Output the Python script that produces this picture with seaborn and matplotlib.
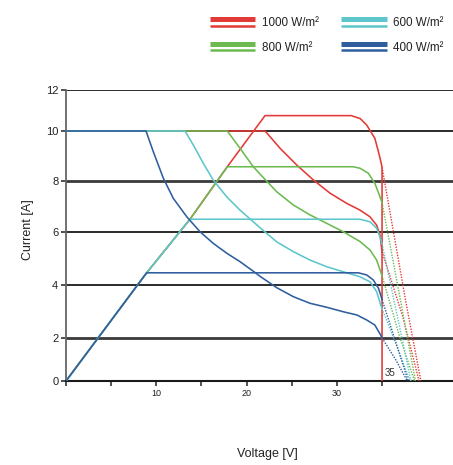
import matplotlib
matplotlib.use("Agg")
import matplotlib.pyplot as plt
from matplotlib.lines import Line2D
from matplotlib.legend_handler import HandlerBase
import seaborn as sns
import numpy as np

# ---------------- data ----------------
labels = ["1000 W/m²", "800 W/m²", "600 W/m²", "400 W/m²"]
colors = ["#e23a36", "#6cba50", "#5cc6ca", "#2f5e9f"]

# curves starting at 10 A and falling
red_desc_v = [0, 22.05, 23.7, 25.55, 27.4, 29.25, 31.1, 32.55, 33.65, 34.4, 34.77, 35.0]
red_desc_i = [10, 10, 9.31, 8.64, 8.04, 7.52, 7.12, 6.86, 6.6, 6.27, 5.89, 5.26]
green_desc_v = [0, 17.86, 19.27, 20.74, 21.48, 23.33, 25.17, 27.02, 28.87,
                30.71, 32.56, 33.67, 34.4, 34.85, 35.0]
green_desc_i = [10, 10, 9.31, 8.57, 8.28, 7.58, 7.06, 6.67, 6.34,
                6.01, 5.64, 5.32, 4.94, 4.5, 4.35]
cyan_desc_v = [0, 13.18, 14.1, 15.2, 16.3, 17.8, 19.27, 20.74, 21.48, 23.33,
               25.17, 27.02, 28.87, 30.71, 32.56, 33.67, 34.4, 34.85, 35.0]
cyan_desc_i = [10, 10, 9.44, 8.71, 8.04, 7.38, 6.86, 6.4, 6.17, 5.63,
               5.26, 4.94, 4.69, 4.5, 4.31, 4.12, 3.75, 3.25, 3.1]
blue_desc_v = [0, 8.86, 9.67, 10.78, 11.88, 13.37, 14.84, 16.31, 17.8, 19.27, 20.74,
               21.48, 23.33, 25.17, 27.02, 28.87, 30.71, 32.2, 33.3, 34.2, 34.85, 35.0]
blue_desc_i = [10, 10, 9.17, 8.11, 7.32, 6.6, 6.01, 5.57, 5.2, 4.88, 4.52,
               4.33, 3.9, 3.56, 3.31, 3.16, 2.99, 2.87, 2.68, 2.49, 2.11, 2.0]

# curves rising from the origin to a plateau
red_pl_v = [0, 8.93, 13.73, 17.86, 22.04, 31.6, 32.6, 33.3, 34.2, 34.6, 34.85, 35.0, 35.0]
red_pl_i = [0, 4.46, 6.5, 8.57, 10.75, 10.75, 10.6, 10.29, 9.71, 9.17, 8.8, 8.55, 0]
green_pl_v = [0, 8.93, 13.73, 17.86, 31.8, 32.56, 33.48, 34.2, 34.7, 35.0]
green_pl_i = [0, 4.46, 6.5, 8.57, 8.57, 8.51, 8.31, 7.91, 7.45, 7.15]
cyan_pl_v = [0, 8.93, 13.73, 32.56, 33.67, 34.4, 34.85, 35.0]
cyan_pl_i = [0, 4.46, 6.5, 6.5, 6.4, 6.15, 5.74, 5.55]
blue_pl_v = [0, 8.93, 32.37, 33.3, 34.03, 34.6, 34.85, 35.0]
blue_pl_i = [0, 4.46, 4.46, 4.38, 4.19, 3.88, 3.62, 3.45]

# dotted continuations beyond 35 V
red_dot_outer_v, red_dot_outer_i = [35, 37.6, 39.3], [8.55, 3.43, 0]
red_dot_inner_v, red_dot_inner_i = [35, 37.3, 39.1], [5.26, 2.8, 0]
green_dot_outer_v, green_dot_outer_i = [35, 37.0, 38.7], [7.15, 3.5, 0]
green_dot_inner_v, green_dot_inner_i = [35, 36.9, 38.6], [4.35, 2.1, 0]
cyan_dot_outer_v, cyan_dot_outer_i = [35, 36.8, 38.2], [5.55, 2.65, 0]
cyan_dot_inner_v, cyan_dot_inner_i = [35, 36.7, 38.1], [3.1, 1.55, 0]
blue_dot_outer_v, blue_dot_outer_i = [35, 36.6, 37.9], [3.45, 1.7, 0]
blue_dot_inner_v, blue_dot_inner_i = [35, 36.5, 37.8], [2.0, 1.0, 0]

x_ticks = [0, 5, 10, 15, 20, 25, 30, 35]
x_tick_labels = ["", "", "10", "", "20", "", "30", ""]
y_ticks = [0, 2, 4, 6, 8, 10, 12]
y_tick_labels = ["0", "2", "4", "6", "8", "10", "12"]
grid_levels = [2, 4, 6, 8, 10, 12]

# uneven vertical spacing of the original's gridlines (value -> pixel height)
scale_vals = np.array([-100, 0, 2, 4, 6, 8, 10, 12, 112], dtype=float)
scale_pix = np.array([-2150, 0, 43, 96, 149, 200, 250, 291, 2341], dtype=float)


def fwd(y):
    return np.interp(y, scale_vals, scale_pix)


def inv(p):
    return np.interp(p, scale_pix, scale_vals)


# ---------------- figure ----------------
sns.set_theme(style="white")
plt.rcParams["font.family"] = ["Liberation Sans", "DejaVu Sans"]

fig = plt.figure(figsize=(4.53, 4.65), dpi=100)
ax = fig.add_axes([66 / 453, 84 / 465, 387 / 453, 291 / 465])
ax.set_yscale("function", functions=(fwd, inv))

for lv in grid_levels:
    lw = 2.0 if lv in (2, 8) else 1.3
    col = "#3a3a3a" if lv in (2, 8) else "#1a1a1a"
    ax.axhline(lv, color=col, lw=lw, zorder=1)

series = [
    (red_desc_v, red_desc_i, red_pl_v, red_pl_i,
     [(red_dot_outer_v, red_dot_outer_i), (red_dot_inner_v, red_dot_inner_i)]),
    (green_desc_v, green_desc_i, green_pl_v, green_pl_i,
     [(green_dot_outer_v, green_dot_outer_i), (green_dot_inner_v, green_dot_inner_i)]),
    (cyan_desc_v, cyan_desc_i, cyan_pl_v, cyan_pl_i,
     [(cyan_dot_outer_v, cyan_dot_outer_i), (cyan_dot_inner_v, cyan_dot_inner_i)]),
    (blue_desc_v, blue_desc_i, blue_pl_v, blue_pl_i,
     [(blue_dot_outer_v, blue_dot_outer_i), (blue_dot_inner_v, blue_dot_inner_i)]),
]

z = 3
for (dv, di, pv, pi, dots), col in zip(series, colors):
    for vv, ii in dots:
        sns.lineplot(x=vv, y=ii, sort=False, estimator=None, color=col, lw=1.0,
                     linestyle=(0, (1, 1)), ax=ax, zorder=z)
    sns.lineplot(x=dv, y=di, sort=False, estimator=None, color=col, lw=1.15,
                 ax=ax, zorder=z + 1)
    sns.lineplot(x=pv, y=pi, sort=False, estimator=None, color=col, lw=1.15,
                 ax=ax, zorder=z + 1)
    z += 2

ax.text(35.3, 0.38, "35", fontsize=7, ha="left", va="center", color="#333333")

ax.set_xlim(0, 387 / 9.03)
ax.set_ylim(0, 12)
ax.set_xticks(x_ticks)
ax.set_xticklabels(x_tick_labels, fontsize=6.5)
ax.set_yticks(y_ticks)
ax.set_yticklabels(y_tick_labels, fontsize=8)
ax.minorticks_off()
ax.tick_params(axis="both", which="both", direction="out", length=3.5, width=1.2,
               color="#333333", labelcolor="#222222", pad=2, bottom=True, left=True)

for s in ("top", "right"):
    ax.spines[s].set_visible(False)
ax.spines["left"].set_color("#666666")
ax.spines["left"].set_linewidth(1.3)
ax.spines["bottom"].set_color("#1a1a1a")
ax.spines["bottom"].set_linewidth(1.5)

ax.set_xlabel("Voltage [V]", fontsize=9, color="#222222")
ax.set_ylabel("Current [A]", fontsize=9, color="#222222")
ax.xaxis.set_label_coords((267 - 66) / 387, -(448 - 381) / 291)
ax.yaxis.set_label_coords((34 - 66) / 387, (381 - 230) / 291)


class DoubleLine(HandlerBase):
    def create_artists(self, legend, orig_handle, xdescent, ydescent, width,
                       height, fontsize, trans):
        c = orig_handle.get_color()
        x0, x1 = -xdescent, width - xdescent
        yc = height / 2 - ydescent
        top = Line2D([x0, x1], [yc + 2.4, yc + 2.4], color=c, lw=3.6,
                     solid_capstyle="butt", transform=trans)
        bot = Line2D([x0, x1], [yc - 2.3, yc - 2.3], color=c, lw=1.8,
                     solid_capstyle="butt", transform=trans)
        return [top, bot]


handles = [Line2D([], [], color=c) for c in colors]
leg = fig.legend(handles, labels, ncol=2, frameon=False, fontsize=8.4,
                 handler_map={Line2D: DoubleLine()}, handlelength=3.93,
                 handletextpad=0.54, columnspacing=1.9, labelspacing=1.1,
                 loc="upper left", bbox_to_anchor=(199 / 453, 1 - 7 / 465))
for t in leg.get_texts():
    t.set_color("#222222")

fig.savefig("out.png", dpi=100)
